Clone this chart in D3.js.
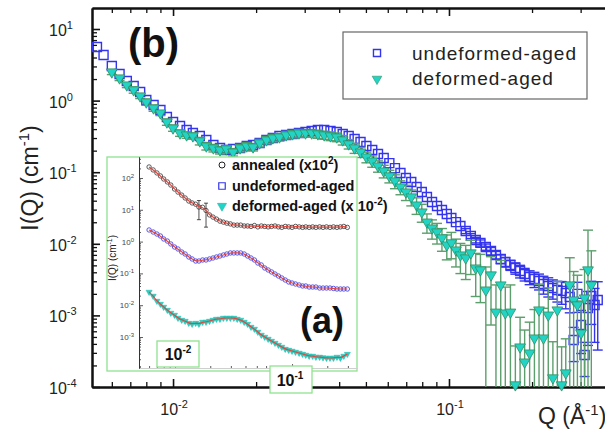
<!DOCTYPE html>
<html><head><meta charset="utf-8">
<script src="https://cdn.jsdelivr.net/npm/d3@7"></script>
<style>
body{margin:0;background:#fff;}
svg{display:block;font-family:"Liberation Sans",Arial,Helvetica,sans-serif;}
</style>
</head><body>
<svg id="c" width="605" height="432"></svg>
<script>
// ---------------- DATA ----------------
const mainQ = [0.0053,0.0056,0.006,0.0064,0.0068,0.0072,0.0076,0.008,0.0085,0.009,
0.0095,0.01,0.0106,0.0112,0.0118,0.0125,0.0132,0.014,0.0148,0.0156,
0.0165,0.0175,0.0185,0.0195,0.0206,0.0218,0.023,0.0243,0.0257,0.0271,
0.0286,0.0302,0.0318,0.0335,0.0353,0.0372,0.0392,0.0412,0.0433,0.0455,
0.0478,0.0502,0.0527,0.0553,0.058,0.0608,0.0637,0.0667,0.0698,0.073,
0.0763,0.0797,0.0832,0.0868,0.0905,0.0943,0.0982,0.102,0.106,0.11,
0.115,0.12,0.125,0.13,0.136,0.142,0.148,0.154,0.16,0.167,
0.174,0.181,0.188,0.196,0.204,0.212,0.22,0.229,0.238,0.247,
0.256,0.265,0.274,0.283,0.292,0.301,0.31,0.319,0.328,0.337,0.346];
const undeformedI = [5.61,4.33,3.04,2.35,1.88,1.60,1.32,1.02,0.869,0.740,
0.590,0.502,0.442,0.388,0.352,0.321,0.282,0.240,0.218,0.204,
0.211,0.218,0.232,0.240,0.256,0.282,0.301,0.321,0.331,0.342,
0.352,0.364,0.376,0.388,0.388,0.376,0.364,0.342,0.321,0.291,
0.264,0.232,0.204,0.180,0.158,0.134,0.114,0.0975,0.0830,0.0730,
0.0621,0.0529,0.0451,0.0384,0.0337,0.0297,0.0261,0.0229,0.0201,0.0177,
0.0151,0.0129,0.0113,0.0103,0.00902,0.00793,0.00698,0.00614,0.00557,0.00506,
0.00459,0.00417,0.00378,0.00344,0.00322,0.00302,0.00275,0.00258,0.00241,0.00226,
0.00220,0.00206,0.00181,0.000453,0.00200,0.000734,0.000280,0.00127,0.00187,0.00140,0.00164];
const undeformedErr = [0.03,0.03,0.03,0.03,0.03,0.03,0.03,0.03,0.03,0.03,
0.03,0.03,0.03,0.03,0.03,0.03,0.03,0.03,0.03,0.03,
0.03,0.03,0.03,0.03,0.03,0.03,0.03,0.03,0.03,0.03,
0.03,0.03,0.03,0.03,0.03,0.03,0.03,0.03,0.03,0.03,
0.03,0.03,0.03,0.03,0.03,0.03,0.03,0.03,0.03,0.03,
0.03,0.03,0.03,0.03,0.03,0.05,0.05,0.06,0.06,0.07,
0.08,0.08,0.09,0.1,0.1,0.12,0.12,0.14,0.15,0.16,
0.18,0.2,0.2,0.22,0.24,0.25,0.28,0.3,0.3,0.32,
0.35,0.4,0.4,0.5,0.45,0.6,0.5,0.7,0.6,0.7,0.8];

const deformedQ = [0.006,0.0064,0.0068,0.0072,0.0076,0.008,0.0085,0.009,0.0095,0.01,
0.0106,0.0112,0.0118,0.0125,0.0132,0.014,0.0148,0.0156,0.0165,0.0175,
0.0185,0.0195,0.0206,0.0218,0.023,0.0243,0.0257,0.0271,0.0286,0.0302,
0.0318,0.0335,0.0353,0.0372,0.0392,0.0412,0.0433,0.0455,0.0478,0.0502,
0.0527,0.0553,0.058,0.0608,0.0637,0.0667,0.0698,0.073,0.0763,0.0797,
0.0832,0.0868,0.0905,0.0943,0.0982,0.102,0.106,0.11,0.115,0.12,
0.125,0.13,0.136,0.142,0.148,0.154,0.16,0.167,0.174,0.181,
0.188,0.196,0.204,0.212,0.22,0.229,0.238,0.247,0.256,0.265,
0.274,0.283,0.292,0.301,0.31,0.319,0.328];
const deformedI = [2.51,2.07,1.65,1.41,1.16,0.955,0.788,0.671,0.502,0.414,
0.352,0.331,0.321,0.273,0.232,0.218,0.204,0.211,0.191,0.218,
0.232,0.225,0.256,0.282,0.301,0.310,0.331,0.342,0.352,0.352,
0.352,0.342,0.331,0.321,0.310,0.282,0.248,0.218,0.191,0.163,
0.143,0.122,0.104,0.0886,0.0754,0.0621,0.0529,0.0451,0.0348,0.0278,
0.0201,0.0166,0.0146,0.0121,0.00962,0.0103,0.00819,0.00698,0.00634,0.00745,
0.00459,0.00431,0.00226,0.00367,0.00111,0.00266,0.00108,0.00111,0.000107,0.000362,
0.000223,0.000298,0.000483,0.00119,0.000483,0.00101,0.000134,0.00119,0.000107,0.000157,
0.00266,0.00164,0.00140,0.000567,0.00175,0.00431,0.00266];
const deformedErr = [0.08,0.08,0.08,0.1,0.08,0.1,0.1,0.08,0.1,0.1,
0.1,0.1,0.1,0.12,0.12,0.12,0.12,0.12,0.12,0.12,
0.12,0.12,0.12,0.12,0.12,0.12,0.12,0.12,0.12,0.12,
0.12,0.13,0.13,0.14,0.14,0.15,0.15,0.16,0.16,0.17,
0.18,0.18,0.2,0.2,0.22,0.22,0.24,0.25,0.26,0.28,
0.3,0.3,0.32,0.35,0.38,0.4,0.42,0.45,0.5,0.5,
0.6,0.65,1.1,0.8,1.4,1.2,1.3,1.4,2.5,1.6,
1.8,1.7,1.5,1.3,1.6,1.4,2.2,1.5,2.4,2.0,
1.4,1.5,1.6,1.8,1.5,2.6,2.0];

// inset (a)
const insetQ = [0.006,0.0065,0.007,0.0075,0.008,0.0086,0.0092,0.0099,0.0106,0.0114,
0.0122,0.0131,0.014,0.015,0.016,0.0172,0.0184,0.0197,0.0211,0.0226,
0.0242,0.0259,0.0277,0.0297,0.0318,0.034,0.0364,0.039,0.0417,0.0446,
0.0477,0.051,0.0546,0.0584,0.0625,0.0668,0.0715,0.0765,0.0818,0.0875,
0.0936,0.1,0.107,0.115,0.123,0.131,0.14,0.15,0.16,0.172,
0.184,0.197,0.211,0.226,0.242,0.259,0.277,0.297];
const annealedI = [222,179,144,116,93,75,60,45,36,29,
23.5,18.9,16.4,15,12.2,12,9.5,6.9,5.9,5.1,
4.4,4.1,3.8,3.6,3.3,3.3,3.3,3.1,3.1,3.0,
3.2,2.9,3.1,3.0,2.9,3.0,3.1,2.9,2.8,3.0,
2.9,2.8,3.0,2.9,2.8,2.9,2.8,2.9,2.8,2.9,
2.8,2.9,2.8,2.9,2.8,2.9,3.0,2.8];
const annealedErr = [0,0,0,0,0,0,0,0,0,0,
0,0,0,0,0.6,0,0.7,0,0,0,
0,0,0,0,0,0,0,0,0,0,
0,0,0,0,0,0,0,0,0,0,
0,0,0,0,0,0,0,0,0,0,
0,0,0,0,0,0,0,0];
const insetUndeformedI = [2.32,2.00,1.73,1.50,1.21,1.04,0.841,0.676,0.585,0.471,
0.407,0.328,0.284,0.245,0.245,0.264,0.264,0.284,0.305,0.328,
0.352,0.379,0.407,0.439,0.439,0.439,0.439,0.407,0.352,0.305,
0.264,0.212,0.184,0.148,0.128,0.111,0.0957,0.0828,0.0716,0.0619,
0.0537,0.0499,0.0464,0.0432,0.0402,0.0402,0.0373,0.0373,0.0373,0.0347,
0.0347,0.0347,0.0347,0.0336,0.0323,0.0323,0.0323,0.0323];
const insetDeformedI = [0.0260,0.0195,0.0135,0.0109,0.00877,0.00706,0.00569,0.00492,0.00396,0.00343,
0.00318,0.00275,0.00256,0.00275,0.00256,0.00296,0.00296,0.00318,0.00343,0.00368,
0.00368,0.00396,0.00396,0.00396,0.00396,0.00368,0.00343,0.00296,0.00256,0.00206,
0.00179,0.00144,0.00116,0.00100,0.000865,0.000748,0.000647,0.000560,0.000485,0.000419,
0.000390,0.000363,0.000338,0.000314,0.000292,0.000272,0.000253,0.000253,0.000235,0.000235,
0.000225,0.000219,0.000219,0.000219,0.000235,0.000219,0.000253,0.000290];

const yTickExps = [-4,-3,-2,-1,0,1];
const xTickExps = [-2,-1];
const insetYTickExps = [-3,-2,-1,0,1,2];
const legendLabels = ["undeformed-aged","deformed-aged"];

// ---------------- DRAW ----------------
const svg = d3.select('#c');
svg.append('rect').attr('width',605).attr('height',432).attr('fill','#fff');

const X0=92, X1=610, Y0=387, Y1=8;
const x = d3.scaleLog().domain([0.005085,0.3833]).range([X0,X1]);
const y = d3.scaleLog().domain([1e-4,19.65]).range([Y0,Y1]);

const BLUE='#3434ee', CYAN='#22d4c6', TRI_STROKE='#2f8f5f', GREEN_BAR='#5c9e6c';

function isMajor(v){const l=Math.log10(v);return Math.abs(l-Math.round(l))<1e-6;}
const xAll = x.ticks(), yAll = y.ticks();
const xMaj = xAll.filter(isMajor), xMin = xAll.filter(v=>!isMajor(v));
const yMaj = yAll.filter(isMajor), yMin = yAll.filter(v=>!isMajor(v));

function styleAxis(g,w){
  g.select('.domain').attr('stroke','#111').attr('stroke-width',2);
  g.selectAll('.tick line').attr('stroke','#111').attr('stroke-width',w);
  g.selectAll('.tick text').remove();
}
[[xMin,-5,1.3],[xMaj,-8,1.6]].forEach(([vals,s,w])=>{
  const g=svg.append('g').attr('transform',`translate(0,${Y0})`)
    .call(d3.axisBottom(x).tickValues(vals).tickSizeInner(s).tickSizeOuter(0).tickFormat(''));
  styleAxis(g,w);
});
[[xMin,-5,1.3],[xMaj,-8,1.6]].forEach(([vals,s,w])=>{
  const g=svg.append('g').attr('transform',`translate(0,${Y1})`)
    .call(d3.axisTop(x).tickValues(vals).tickSizeInner(s).tickSizeOuter(0).tickFormat(''));
  styleAxis(g,w);
});
[[yMin,-5,1.3],[yMaj,-8,1.6]].forEach(([vals,s,w])=>{
  const g=svg.append('g').attr('transform',`translate(${X0},0)`)
    .call(d3.axisLeft(y).tickValues(vals).tickSizeInner(s).tickSizeOuter(0).tickFormat(''));
  styleAxis(g,w);
});

function supLabel(t, base, sup, tail, supSize, up){
  t.append('tspan').text(base);
  t.append('tspan').attr('dy',-up).attr('font-size',supSize).text(sup);
  if(tail) t.append('tspan').attr('dy',up).text(tail);
  return t;
}
yTickExps.forEach(e=>{
  const t=svg.append('text').attr('x',49).attr('y',y(Math.pow(10,e))+7)
    .attr('font-size',16).attr('fill','#222');
  supLabel(t,'10',String(e),null,11,7);
});
xTickExps.forEach(e=>{
  const t=svg.append('text').attr('x',x(Math.pow(10,e))+1).attr('y',415)
    .attr('text-anchor','middle').attr('font-size',16).attr('fill','#222');
  supLabel(t,'10',String(e),null,11,7);
});
supLabel(svg.append('text').attr('transform','translate(38,178) rotate(-90)')
  .attr('text-anchor','middle').attr('font-size',23).attr('fill','#222'),'I(Q) (cm','-1',')',15,9);
supLabel(svg.append('text').attr('x',538).attr('y',424)
  .attr('font-size',23).attr('fill','#222'),'Q (Å','-1',')',15,9);

// ---- main data ----
const und = mainQ.map((q,i)=>({q,v:undeformedI[i],e:undeformedErr[i]}));
const def = deformedQ.map((q,i)=>({q,v:deformedI[i],e:deformedErr[i]}));

function drawErr(g,data,color,cap,minE){
  data.filter(d=>d.e>=minE).forEach(d=>{
    const cx=x(d.q);
    const top=Math.max(Y1,y(d.v*(1+d.e)));
    const lowV=d.v*(1-d.e);
    const bot=lowV>1e-4? y(lowV) : Y0;
    g.append('line').attr('x1',cx).attr('x2',cx).attr('y1',top).attr('y2',bot)
      .attr('stroke',color).attr('stroke-width',1.4);
    g.append('line').attr('x1',cx-cap).attr('x2',cx+cap).attr('y1',top).attr('y2',top)
      .attr('stroke',color).attr('stroke-width',1.4);
    if(lowV>1e-4) g.append('line').attr('x1',cx-cap).attr('x2',cx+cap).attr('y1',bot).attr('y2',bot)
      .attr('stroke',color).attr('stroke-width',1.4);
  });
}
const gData = svg.append('g');
drawErr(gData.append('g'),und,BLUE,5,0.08);
gData.append('g').selectAll('path').data(und).join('path')
  .attr('d',d3.symbol(d3.symbolSquare,81))
  .attr('transform',d=>`translate(${x(d.q)},${y(d.v)})`)
  .attr('fill','none').attr('stroke',BLUE).attr('stroke-width',1.4);
drawErr(gData.append('g'),def,GREEN_BAR,5,0);
gData.append('g').selectAll('path').data(def).join('path')
  .attr('d',d3.symbol(d3.symbolTriangle,50))
  .attr('transform',d=>`translate(${x(d.q)},${y(d.v)}) rotate(180)`)
  .attr('fill',CYAN).attr('stroke',TRI_STROKE).attr('stroke-width',0.8);

svg.append('text').attr('x',128).attr('y',57).attr('font-size',40).attr('font-weight','bold')
  .attr('fill','#111').text('(b)');

const lg=svg.append('g');
lg.append('rect').attr('x',343).attr('y',32).attr('width',244).attr('height',67)
  .attr('fill','#fff').attr('stroke','#666').attr('stroke-width',1.2);
lg.append('path').attr('d',d3.symbol(d3.symbolSquare,50)).attr('transform','translate(377,53)')
  .attr('fill','#fff').attr('stroke',BLUE).attr('stroke-width',1.4);
lg.append('path').attr('d',d3.symbol(d3.symbolTriangle,40)).attr('transform','translate(377,79) rotate(180)')
  .attr('fill',CYAN).attr('stroke',TRI_STROKE).attr('stroke-width',0.6);
legendLabels.forEach((s,i)=>{
  lg.append('text').attr('x',412).attr('y',60+25*i).attr('font-size',19)
    .attr('letter-spacing',1).attr('fill','#222').text(s);
});

// ---------------- INSET ----------------
const IX0=139, IX1=357, IY0=368, IY1=157;
const ix=d3.scaleLog().domain([0.00492,0.359]).range([IX0,IX1]);
const iy=d3.scaleLog().domain([1.06e-4,457]).range([IY0,IY1]);
const GB='#8fe38f';
const ins=svg.append('g');
ins.append('rect').attr('x',107).attr('y',157).attr('width',250).attr('height',214)
  .attr('fill','#fff').attr('stroke',GB).attr('stroke-width',1.3);

const ixAll=ix.ticks(), iyAll=iy.ticks();
function styleInset(g,col){
  g.select('.domain').attr('stroke',col).attr('stroke-width',1);
  g.selectAll('.tick line').attr('stroke','#333').attr('stroke-width',0.8);
  g.selectAll('.tick text').remove();
}
[[ixAll.filter(v=>!isMajor(v)),-2],[ixAll.filter(isMajor),-4]].forEach(([vals,s])=>{
  const g=ins.append('g').attr('transform',`translate(0,${IY0})`)
    .call(d3.axisBottom(ix).tickValues(vals).tickSizeInner(s).tickSizeOuter(0).tickFormat(''));
  styleInset(g,'#cfcfcf');
});
[[iyAll.filter(v=>!isMajor(v)),-2],[iyAll.filter(isMajor),-4]].forEach(([vals,s])=>{
  const g=ins.append('g').attr('transform',`translate(${IX0},0)`)
    .call(d3.axisLeft(iy).tickValues(vals).tickSizeInner(s).tickSizeOuter(0).tickFormat(''));
  styleInset(g,'#333');
});
insetYTickExps.forEach(e=>{
  const t=ins.append('text').attr('x',134).attr('y',iy(Math.pow(10,e))+3)
    .attr('text-anchor','end').attr('font-size',8).attr('fill','#444');
  supLabel(t,'10',String(e),null,6,3);
});
supLabel(ins.append('text').attr('transform','translate(116,258) rotate(-90)')
  .attr('text-anchor','middle').attr('font-size',10).attr('fill','#222'),'I(Q) (cm','-1',')',7,4);

const ann = insetQ.map((q,i)=>({q,v:annealedI[i],e:annealedErr[i]}));
const iun = insetQ.map((q,i)=>({q,v:insetUndeformedI[i]}));
const ide = insetQ.map((q,i)=>({q,v:insetDeformedI[i]}));

ann.filter(d=>d.e>0).forEach(d=>{
  const cx=ix(d.q), t=iy(d.v*(1+d.e)), b=iy(d.v*(1-d.e));
  ins.append('line').attr('x1',cx).attr('x2',cx).attr('y1',t).attr('y2',b).attr('stroke','#222').attr('stroke-width',0.8);
  ins.append('line').attr('x1',cx-2).attr('x2',cx+2).attr('y1',t).attr('y2',t).attr('stroke','#222').attr('stroke-width',0.8);
  ins.append('line').attr('x1',cx-2).attr('x2',cx+2).attr('y1',b).attr('y2',b).attr('stroke','#222').attr('stroke-width',0.8);
});
ins.append('g').selectAll('circle').data(ann).join('circle')
  .attr('cx',d=>ix(d.q)).attr('cy',d=>iy(d.v)).attr('r',2.2)
  .attr('fill','none').attr('stroke','#333').attr('stroke-width',0.8);
ins.append('g').selectAll('circle').data(iun).join('circle')
  .attr('cx',d=>ix(d.q)).attr('cy',d=>iy(d.v)).attr('r',2.2)
  .attr('fill','none').attr('stroke','#4646e6').attr('stroke-width',0.9);
ins.append('g').selectAll('path').data(ide).join('path')
  .attr('d',d3.symbol(d3.symbolTriangle,16))
  .attr('transform',d=>`translate(${ix(d.q)},${iy(d.v)}) rotate(180)`)
  .attr('fill',CYAN).attr('stroke','#25b5aa').attr('stroke-width',0.5);
const fitLine=d3.line().x(d=>ix(d.q)).y(d=>iy(d.v)).curve(d3.curveBasis);
[ann,iun,ide].forEach(s=>{
  ins.append('path').attr('d',fitLine(s)).attr('fill','none')
    .attr('stroke','#e5463c').attr('stroke-width',1.2);
});

ins.append('circle').attr('cx',222).attr('cy',165).attr('r',3).attr('fill','none').attr('stroke','#222').attr('stroke-width',1);
ins.append('path').attr('d',d3.symbol(d3.symbolSquare,42)).attr('transform','translate(222,186)')
  .attr('fill','#fff').attr('stroke',BLUE).attr('stroke-width',1.2);
ins.append('path').attr('d',d3.symbol(d3.symbolTriangle,36)).attr('transform','translate(222,206) rotate(180)')
  .attr('fill',CYAN).attr('stroke','#25b5aa').attr('stroke-width',0.6);
supLabel(ins.append('text').attr('x',232).attr('y',170).attr('font-size',14.5).attr('font-weight','bold').attr('fill','#111'),
  'annealed (x10','2',')',10,6);
ins.append('text').attr('x',232).attr('y',191).attr('font-size',14.5).attr('font-weight','bold').attr('fill','#111')
  .text('undeformed-aged');
supLabel(ins.append('text').attr('x',232).attr('y',211).attr('font-size',14.5).attr('font-weight','bold').attr('fill','#111'),
  'deformed-aged (x 10','-2',')',10,6);

[[-2,157,341,42,26,178,360],[-1,270,366,42,27,290,386]].forEach(([e,bx,by,bw,bh,tx,ty])=>{
  ins.append('rect').attr('x',bx).attr('y',by).attr('width',bw).attr('height',bh)
    .attr('fill','#fff').attr('stroke',GB).attr('stroke-width',1.3);
  const t=ins.append('text').attr('x',tx).attr('y',ty).attr('text-anchor','middle')
    .attr('font-size',16).attr('font-weight','bold').attr('fill','#111');
  supLabel(t,'10',String(e),null,10,7);
});

svg.append('text').attr('x',300).attr('y',333).attr('font-size',36).attr('font-weight','bold')
  .attr('fill','#111').text('(a)');
</script>
</body></html>
